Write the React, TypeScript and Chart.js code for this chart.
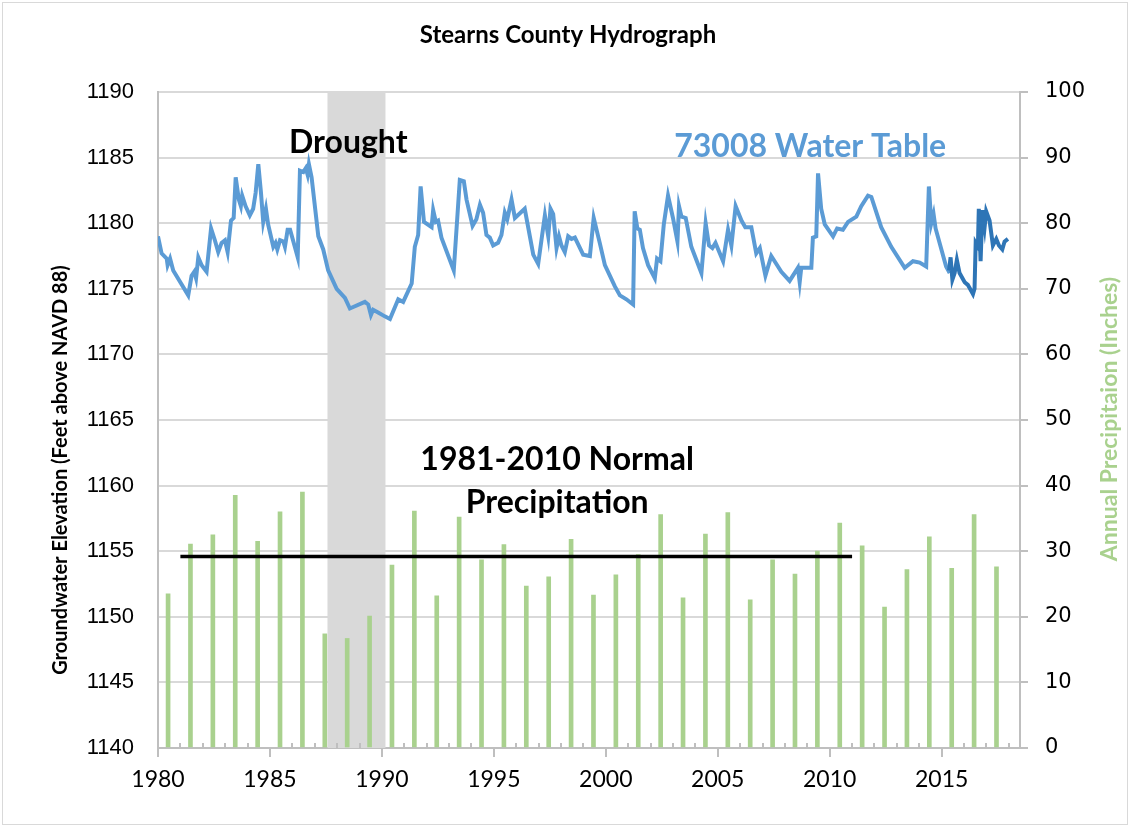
import React, { useEffect, useRef } from 'react';
import { Chart, registerables } from 'chart.js';

Chart.register(...registerables);

const TITLE = 'Stearns County Hydrograph';
const LEFT_AXIS_TITLE = 'Groundwater Elevation (Feet above NAVD 88)';
const RIGHT_AXIS_TITLE = 'Annual Precipitaion (Inches)';
const DROUGHT_LABEL = 'Drought';
const WATER_LABEL = '73008 Water Table';
const NORMAL_LABEL_LINES = ['1981-2010 Normal', 'Precipitation'];

const X_MIN = 1980;
const X_MAX = 2018.5;
const X_TICKS = [1980, 1985, 1990, 1995, 2000, 2005, 2010, 2015];
const MINOR_TICK_YEARS = [
  1981, 1982, 1983, 1984, 1986, 1987, 1988, 1989, 1991, 1992, 1993, 1994,
  1996, 1997, 1998, 1999, 2001, 2002, 2003, 2004, 2006, 2007, 2008, 2009,
  2011, 2012, 2013, 2014, 2016, 2017, 2018,
];
const LEFT_MIN = 1140;
const LEFT_MAX = 1190;
const LEFT_STEP = 5;
const RIGHT_MIN = 0;
const RIGHT_MAX = 100;
const RIGHT_STEP = 10;

const PRECIP_YEARS = [
  1980, 1981, 1982, 1983, 1984, 1985, 1986, 1987, 1988, 1989,
  1990, 1991, 1992, 1993, 1994, 1995, 1996, 1997, 1998, 1999,
  2000, 2001, 2002, 2003, 2004, 2005, 2006, 2007, 2008, 2009,
  2010, 2011, 2012, 2013, 2014, 2015, 2016, 2017,
];
const PRECIP_INCHES = [
  23.5, 31.1, 32.5, 38.5, 31.5, 36.0, 39.0, 17.4, 16.7, 20.1,
  27.9, 36.1, 23.2, 35.2, 28.7, 31.0, 24.7, 26.1, 31.8, 23.3,
  26.4, 29.5, 35.6, 22.9, 32.6, 35.9, 22.6, 28.7, 26.5, 30.0,
  34.3, 30.8, 21.5, 27.2, 32.2, 27.4, 35.6, 27.6,
];
const MID_YEAR = 0.45;

const NORMAL_START = 1981;
const NORMAL_END = 2011;
const NORMAL_PRECIP = 29.2;

const DROUGHT_START = 1987.57;
const DROUGHT_END = 1990.16;

const WATER_YEARS = [
  1980.0, 1980.16, 1980.39, 1980.43, 1980.54, 1980.68, 1981.35, 1981.5, 1981.62, 1981.7,
  1981.8, 1981.95, 1982.17, 1982.37, 1982.54, 1982.69, 1982.84, 1982.99, 1983.11, 1983.26,
  1983.38, 1983.47, 1983.61, 1983.7, 1983.76, 1983.91, 1984.1, 1984.25, 1984.36, 1984.48,
  1984.6, 1984.7, 1984.82, 1984.92, 1985.15, 1985.25, 1985.33, 1985.45, 1985.6, 1985.67,
  1985.79, 1985.9, 1986.24, 1986.34, 1986.49, 1986.6, 1986.68, 1986.74, 1986.86, 1987.16,
  1987.38, 1987.6, 1987.98, 1988.35, 1988.57, 1989.24, 1989.39, 1989.51, 1989.61, 1989.83,
  1990.13, 1990.36, 1990.73, 1990.95, 1991.33, 1991.47, 1991.62, 1991.73, 1991.88, 1992.22,
  1992.29, 1992.41, 1992.51, 1992.66, 1993.21, 1993.48, 1993.66, 1993.78, 1994.05, 1994.22,
  1994.38, 1994.52, 1994.67, 1994.82, 1994.97, 1995.19, 1995.34, 1995.49, 1995.6, 1995.79,
  1995.94, 1996.38, 1996.76, 1996.98, 1997.28, 1997.43, 1997.53, 1997.65, 1997.8, 1997.91,
  1998.02, 1998.17, 1998.32, 1998.47, 1998.62, 1998.99, 1999.29, 1999.46, 1999.73, 1999.96,
  2000.4, 2000.63, 2000.92, 2001.22, 2001.29, 2001.41, 2001.52, 2001.66, 2001.89, 2002.19,
  2002.29, 2002.44, 2002.59, 2002.78, 2003.0, 2003.2, 2003.27, 2003.38, 2003.57, 2003.82,
  2004.27, 2004.46, 2004.61, 2004.76, 2004.9, 2005.24, 2005.46, 2005.61, 2005.8, 2006.06,
  2006.23, 2006.5, 2006.72, 2006.88, 2007.13, 2007.39, 2007.69, 2007.84, 2008.21, 2008.58,
  2008.66, 2008.73, 2009.18, 2009.25, 2009.4, 2009.48, 2009.62, 2009.78, 2010.15, 2010.33,
  2010.59, 2010.82, 2011.19, 2011.41, 2011.71, 2011.86, 2012.3, 2012.75, 2013.35, 2013.72,
  2014.02, 2014.31, 2014.43, 2014.54, 2014.64, 2014.73, 2015.2, 2015.36,
];
const WATER_LEVELS = [
  1179.0, 1177.7, 1177.3, 1176.8, 1177.3, 1176.4, 1174.5, 1176.0, 1176.3, 1175.8,
  1177.4, 1176.8, 1176.3, 1179.6, 1178.7, 1177.8, 1178.5, 1178.7, 1177.8, 1180.2,
  1180.4, 1183.5, 1181.8, 1181.3, 1182.1, 1181.3, 1180.6, 1181.1, 1182.3, 1184.5,
  1182.3, 1180.1, 1181.1, 1179.9, 1178.2, 1178.5, 1178.0, 1178.7, 1178.6, 1178.2,
  1179.5, 1179.5, 1177.4, 1184.0, 1183.9, 1184.2, 1183.7, 1184.5, 1183.5, 1179.0,
  1178.0, 1176.4, 1175.0, 1174.3, 1173.5, 1174.0, 1173.8, 1173.0, 1173.4, 1173.2,
  1172.9, 1172.7, 1174.2, 1174.0, 1175.4, 1178.2, 1179.1, 1182.8, 1180.1, 1179.7,
  1181.0, 1180.1, 1180.2, 1178.9, 1176.4, 1183.3, 1183.2, 1181.8, 1179.8, 1180.3,
  1181.4, 1180.8, 1179.1, 1178.9, 1178.3, 1178.5, 1179.1, 1180.8, 1180.3, 1181.8,
  1180.4, 1181.1, 1177.6, 1176.9, 1180.6, 1179.0, 1181.1, 1180.7, 1178.1, 1179.0,
  1178.3, 1177.8, 1179.0, 1178.8, 1178.9, 1177.6, 1177.5, 1180.4, 1178.5, 1176.8,
  1175.2, 1174.5, 1174.2, 1173.8, 1180.9, 1179.6, 1179.5, 1178.1, 1176.8, 1175.8,
  1177.3, 1177.1, 1179.9, 1182.1, 1180.4, 1178.6, 1181.3, 1180.5, 1180.4, 1178.2,
  1176.2, 1180.0, 1178.3, 1178.1, 1178.5, 1177.1, 1179.5, 1178.3, 1181.3, 1180.2,
  1179.7, 1179.7, 1177.7, 1178.1, 1176.0, 1177.5, 1176.7, 1176.3, 1175.6, 1176.6,
  1175.5, 1176.6, 1176.6, 1178.9, 1179.0, 1183.8, 1181.1, 1179.9, 1179.0, 1179.6,
  1179.5, 1180.1, 1180.5, 1181.3, 1182.1, 1182.0, 1179.7, 1178.2, 1176.6, 1177.1,
  1177.0, 1176.7, 1182.8, 1180.0, 1180.7, 1179.6, 1176.7, 1176.2,
];

const RECENT_YEARS = [
  2015.33, 2015.4, 2015.48, 2015.58, 2015.68, 2015.8, 2016.03, 2016.17, 2016.4, 2016.47,
  2016.52, 2016.62, 2016.66, 2016.74, 2016.82, 2016.92, 2016.99, 2017.14, 2017.29, 2017.44,
  2017.56, 2017.71, 2017.81, 2017.96,
];
const RECENT_LEVELS = [
  1176.4, 1177.4, 1175.7, 1176.2, 1177.2, 1176.2, 1175.5, 1175.3, 1174.6, 1175.0,
  1178.5, 1178.2, 1181.1, 1177.1, 1181.0, 1179.7, 1180.9, 1180.2, 1178.3, 1178.8,
  1178.3, 1178.0, 1178.6, 1178.8,
];

const COLOR_WATER = '#5b9bd5';
const COLOR_RECENT = '#2e75b6';
const COLOR_PRECIP = '#a9d18e';
const COLOR_GRID = '#d9d9d9';
const COLOR_AXIS = '#bfbfbf';
const FONT_MAIN = 'Lato, "Open Sans", sans-serif';

const LAYOUT = { left: 158, right: 110, top: 92, bottom: 79 };

const overlayPlugin = {
  id: 'overlay',
  beforeDatasetsDraw(chart: any) {
    const { ctx, chartArea, scales } = chart;
    const x0 = scales.x.getPixelForValue(DROUGHT_START);
    const x1 = scales.x.getPixelForValue(DROUGHT_END);
    ctx.save();
    ctx.fillStyle = COLOR_GRID;
    ctx.fillRect(x0, chartArea.top, x1 - x0, chartArea.bottom - chartArea.top);
    ctx.restore();
  },
  afterDatasetsDraw(chart: any) {
    const { ctx, chartArea, scales } = chart;
    ctx.save();
    ctx.strokeStyle = COLOR_AXIS;
    ctx.lineWidth = 2;
    MINOR_TICK_YEARS.forEach((yr) => {
      const px = Math.round(scales.x.getPixelForValue(yr));
      ctx.beginPath();
      ctx.moveTo(px, chartArea.bottom);
      ctx.lineTo(px, chartArea.bottom - 5);
      ctx.stroke();
    });
    ctx.textAlign = 'center';
    ctx.textBaseline = 'alphabetic';
    ctx.font = `bold 32px ${FONT_MAIN}`;
    ctx.fillStyle = '#000000';
    ctx.fillText(DROUGHT_LABEL, scales.x.getPixelForValue(1988.5), scales.y.getPixelForValue(1185.35));
    ctx.fillStyle = COLOR_WATER;
    ctx.fillText(WATER_LABEL, scales.x.getPixelForValue(2009.13), scales.y.getPixelForValue(1185.05));
    ctx.fillStyle = '#000000';
    ctx.fillText(NORMAL_LABEL_LINES[0], scales.x.getPixelForValue(1997.83), scales.y.getPixelForValue(1161.2));
    ctx.fillText(NORMAL_LABEL_LINES[1], scales.x.getPixelForValue(1997.83), scales.y.getPixelForValue(1157.9));
    ctx.restore();
  },
  afterDraw(chart: any) {
    const { ctx, width, height } = chart;
    ctx.save();
    ctx.strokeStyle = COLOR_GRID;
    ctx.lineWidth = 1;
    ctx.strokeRect(2.5, 2.5, width - 5, height - 5);
    ctx.fillStyle = '#000000';
    ctx.textAlign = 'center';
    ctx.textBaseline = 'alphabetic';
    ctx.font = `bold 24px ${FONT_MAIN}`;
    ctx.fillText(TITLE, 568, 43);
    ctx.textBaseline = 'middle';
    ctx.font = `bold 20px ${FONT_MAIN}`;
    ctx.translate(61, 470);
    ctx.rotate(-Math.PI / 2);
    ctx.fillText(LEFT_AXIS_TITLE, 0, 0);
    ctx.restore();
    ctx.save();
    ctx.fillStyle = COLOR_PRECIP;
    ctx.textAlign = 'center';
    ctx.textBaseline = 'middle';
    ctx.font = `bold 23px ${FONT_MAIN}`;
    ctx.translate(1110, 419);
    ctx.rotate(-Math.PI / 2);
    ctx.fillText(RIGHT_AXIS_TITLE, 0, 0);
    ctx.restore();
  },
};

export default function App() {
  const canvasRef = useRef<HTMLCanvasElement | null>(null);

  useEffect(() => {
    document.body.style.margin = '0';
    const canvas = canvasRef.current;
    if (!canvas) return;

    const chart = new Chart(canvas, {
      type: 'bar',
      data: {
        datasets: [
          {
            type: 'line',
            label: '1981-2010 Normal Precipitation',
            data: [
              { x: NORMAL_START, y: NORMAL_PRECIP },
              { x: NORMAL_END, y: NORMAL_PRECIP },
            ],
            yAxisID: 'y2',
            borderColor: '#000000',
            borderWidth: 3.5,
            pointRadius: 0,
            order: 0,
          },
          {
            type: 'line',
            label: '73008 Water Table (recent)',
            data: RECENT_YEARS.map((yr, i) => ({ x: yr, y: RECENT_LEVELS[i] })),
            yAxisID: 'y',
            borderColor: COLOR_RECENT,
            borderWidth: 4,
            pointRadius: 0,
            tension: 0,
            order: 1,
          },
          {
            type: 'line',
            label: '73008 Water Table',
            data: WATER_YEARS.map((yr, i) => ({ x: yr, y: WATER_LEVELS[i] })),
            yAxisID: 'y',
            borderColor: COLOR_WATER,
            borderWidth: 4,
            pointRadius: 0,
            tension: 0,
            order: 2,
          },
          {
            type: 'bar',
            label: 'Annual Precipitation',
            data: PRECIP_YEARS.map((yr, i) => ({ x: yr + MID_YEAR, y: PRECIP_INCHES[i] })),
            yAxisID: 'y2',
            backgroundColor: COLOR_PRECIP,
            barThickness: 4,
            order: 3,
          },
        ] as any,
      },
      options: {
        responsive: false,
        animation: false,
        events: [],
        layout: { padding: { top: LAYOUT.top, left: 0, right: 0, bottom: 0 } },
        plugins: {
          legend: { display: false },
          title: { display: false },
          tooltip: { enabled: false },
        },
        scales: {
          x: {
            type: 'linear',
            position: 'bottom',
            offset: false,
            min: X_MIN,
            max: X_MAX,
            afterBuildTicks: (scale: any) => {
              scale.ticks = X_TICKS.map((v) => ({ value: v }));
            },
            afterFit: (scale: any) => {
              scale.height = LAYOUT.bottom;
            },
            ticks: {
              color: '#000000',
              font: { family: FONT_MAIN, size: 23 },
              padding: 9,
              maxRotation: 0,
              autoSkip: false,
              callback: (v: any) => String(v),
            },
            grid: {
              offset: false,
              drawOnChartArea: false,
              drawTicks: true,
              tickLength: 9,
              color: COLOR_AXIS,
              lineWidth: 2,
            },
            border: { display: true, color: COLOR_AXIS, width: 2 },
          },
          y: {
            type: 'linear',
            position: 'left',
            min: LEFT_MIN,
            max: LEFT_MAX,
            afterFit: (scale: any) => {
              scale.width = LAYOUT.left;
            },
            ticks: {
              stepSize: LEFT_STEP,
              color: '#000000',
              font: { family: '"Liberation Sans", Arial, sans-serif', size: 22 },
              padding: 24,
              callback: (v: any) => String(v),
            },
            grid: {
              color: COLOR_GRID,
              lineWidth: 2,
              drawTicks: false,
            },
            border: { display: true, color: COLOR_AXIS, width: 2 },
          },
          y2: {
            type: 'linear',
            position: 'right',
            min: RIGHT_MIN,
            max: RIGHT_MAX,
            afterFit: (scale: any) => {
              scale.width = LAYOUT.right;
            },
            ticks: {
              stepSize: RIGHT_STEP,
              color: '#000000',
              font: { family: '"DejaVu Sans", Verdana, sans-serif', size: 21 },
              padding: 17,
              callback: (v: any) => String(v),
            },
            grid: {
              drawOnChartArea: false,
              drawTicks: true,
              tickLength: 8,
              color: COLOR_AXIS,
              lineWidth: 2,
            },
            border: { display: true, color: COLOR_AXIS, width: 2 },
          },
        },
      } as any,
      plugins: [overlayPlugin],
    });

    return () => chart.destroy();
  }, []);

  return (
    <div style={{ width: 1130, height: 827, background: '#ffffff' }}>
      <canvas ref={canvasRef} width={1130} height={827} />
    </div>
  );
}
